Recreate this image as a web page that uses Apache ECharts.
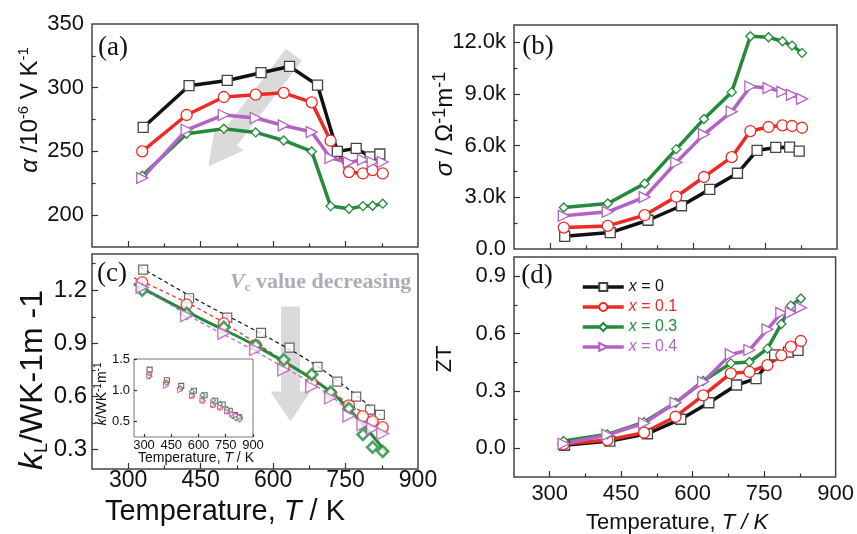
<!DOCTYPE html>
<html><head><meta charset="utf-8">
<script src="https://cdn.jsdelivr.net/npm/echarts@6/dist/echarts.min.js"></script>
<style>html,body{margin:0;padding:0;background:#fff}#c{width:857px;height:534px}</style>
</head><body><div id="c"></div>
<script>
// ---------- data ----------
var T0 = [331,426,505,575,634,692,733,772,801,821];
var T1 = [329,421,498,564,622,680,719,757,786,806,827];

// (a) Seebeck coefficient
var aX0 = [268.8,301.6,305.7,311.8,316.7,302.0,250.0,252.4,245.8,248.0];
var aX1 = [250.0,278.6,292.7,294.5,296.0,288.5,258.4,233.8,232.7,235.3,232.7];
var aX3 = [230.9,263.9,267.8,264.9,258.6,250.0,207.1,205.0,207.1,207.4,209.0];
var aX4 = [229.1,267.0,278.6,276.2,270.4,265.2,244.8,241.4,243.5,241.7,241.7];

// (b) electrical conductivity
var bX0 = [735,951,1669,2510,3461,4395,5719,5894,5912,5678];
var bX1 = [1243,1342,1961,3035,4179,5328,6846,7079,7178,7137,7038];
var bX3 = [2410,2644,3793,5795,7546,9104,12349,12290,12057,11806,11380];
var bX4 = [1926,2159,3011,5019,6653,7972,9431,9338,9122,8947,8713];

// (c) lattice thermal conductivity
var cX0 = [1.317,1.155,1.046,0.959,0.876,0.767,0.684,0.599,0.526,0.496];
var cX1 = [1.245,1.119,1.013,0.890,0.770,0.677,0.615,0.549,0.488,0.460,0.426];
var cX3 = [1.200,1.070,0.990,0.889,0.807,0.724,0.624,0.532,0.385,0.313,0.290];
var cX4 = [1.217,1.057,0.957,0.865,0.750,0.654,0.592,0.490,0.441,0.419,0.390];
// (c) fitted curves
var fitT0 = [325,450,575,700,822];       var fitK0 = [1.330,1.135,0.955,0.755,0.495];
var fitT1 = [312,450,560,700,832];       var fitK1 = [1.270,1.090,0.910,0.660,0.430];
var fitT3 = [312,450,565,700,760,835];   var fitK3 = [1.236,1.040,0.885,0.665,0.520,0.280];
var fitT4 = [312,450,560,700,760,831];   var fitK4 = [1.240,1.020,0.860,0.640,0.515,0.385];
// (c) inset: total thermal conductivity
var iX0 = [1.33,1.16,1.07,0.99,0.92,0.83,0.77,0.67,0.60,0.57];
var iX1 = [1.25,1.12,1.02,0.91,0.83,0.76,0.72,0.66,0.61,0.59,0.56];
var iX3 = [1.22,1.10,1.03,0.98,0.92,0.84,0.78,0.70,0.59,0.55,0.53];
var iX4 = [1.22,1.07,1.00,0.91,0.84,0.77,0.73,0.66,0.62,0.60,0.57];

// (d) ZT
var dX0 = [0.016,0.038,0.076,0.152,0.238,0.331,0.364,0.488,0.503,0.512];
var dX1 = [0.022,0.043,0.082,0.165,0.277,0.392,0.399,0.435,0.486,0.531,0.561];
var dX3 = [0.038,0.073,0.137,0.238,0.352,0.444,0.451,0.521,0.650,0.746,0.783];
var dX4 = [0.024,0.070,0.131,0.238,0.348,0.491,0.514,0.622,0.708,0.709,0.735];

// arrows [xStart, yStart, xEnd, yEnd] in data units
var arrowA = [643, 325.9, 466, 238.2];
var arrowC = [636, 1.108, 636, 0.458];

// names
var names = ['x = 0','x = 0.1','x = 0.3','x = 0.4'];

// ticks / labels
var xMajor = [300,450,600,750], xMinor = [375,525,675,825], xLabels = [300,450,600,750,900];
var aMajor = [200,250,300], aMinor = [225,275,325], aLabels = [200,250,300,350];
var bMajor = [3000,6000,9000,12000], bMinor = [1500,4500,7500,10500], bLabels = [0,3000,6000,9000,12000];
var cMajor = [0.3,0.6,0.9,1.2], cMinor = [0.45,0.75,1.05,1.35], cLabels = [0.3,0.6,0.9,1.2];
var dMajor = [0,0.3,0.6,0.9], dMinor = [0.15,0.45,0.75], dLabels = [0,0.3,0.6,0.9];
var iXLabels = [300,450,600,750,900], iYLabels = [0.5,1.0,1.5];

// ---------- style ----------
var FONT = 'Liberation Sans, Arial, sans-serif';
var SERIF = 'Liberation Serif, Times New Roman, serif';
var COL = ['#111111','#ee2a24','#248a3c','#b462c4'];
var EDGE = ['#444444','#ee2a24','#248a3c','#b462c4'];
var TRI = 'path://M0,0 L10,5 L0,10 Z';
var SYM = ['rect','circle','diamond',TRI];

function pairs(T, V){ return T.map(function(t,i){ return [t, V[i]]; }); }

var xAxes = [], yAxes = [];
function addAxes(list, gi, min, max, major, minor, labels, lbl, pos, len){
  var idx = list.length;
  list.push({type:'value', gridIndex:gi, min:min, max:max, position:pos,
    axisLine:{show:false, onZero:false}, splitLine:{show:false},
    axisTick:{show:true, inside:true, length:len, customValues:major, lineStyle:{color:'#333', width:1.2}},
    axisLabel: lbl ? Object.assign({show:true, customValues:labels, color:'#111', fontFamily:FONT}, lbl) : {show:false}
  });
  if (minor) {
    list.push({type:'value', gridIndex:gi, min:min, max:max, position:pos,
      axisLine:{show:false, onZero:false}, splitLine:{show:false},
      axisTick:{show:true, inside:true, length:len*0.6, customValues:minor, lineStyle:{color:'#333', width:1.2}},
      axisLabel:{show:false}
    });
  }
  return idx;
}
var f1 = function(v){ return v.toFixed(1); };
var fk = function(v){ return v === 0 ? '0.0' : (v/1000).toFixed(1) + 'k'; };

var xa = addAxes(xAxes, 0, 225, 900, xMajor, xMinor, null, null, 'bottom', 6);
var ya = addAxes(yAxes, 0, 175, 350, aMajor, aMinor, aLabels, {fontSize:22, margin:8}, 'left', 6);
var xb = addAxes(xAxes, 1, 225, 900, xMajor, xMinor, null, null, 'bottom', 6);
var yb = addAxes(yAxes, 1, 0, 13000, bMajor, bMinor, bLabels, {fontSize:22, margin:8, formatter:fk}, 'left', 6);
var xc = addAxes(xAxes, 2, 225, 900, xMajor, xMinor, xLabels, {fontSize:23, margin:0}, 'bottom', 6);
var yc = addAxes(yAxes, 2, 0.19, 1.405, cMajor, cMinor, cLabels, {fontSize:24, margin:5, formatter:f1}, 'left', 6);
var xd = addAxes(xAxes, 3, 225, 900, xMajor, xMinor, xLabels, {fontSize:22, margin:6}, 'bottom', 6);
var yd = addAxes(yAxes, 3, -0.15, 1.0, dMajor, dMinor, dLabels, {fontSize:22, margin:8, formatter:f1}, 'left', 6);
var xi = addAxes(xAxes, 4, 245, 900, iXLabels, null, iXLabels, {fontSize:13, margin:2}, 'bottom', 3);
var yi = addAxes(yAxes, 4, 0.25, 1.5, iYLabels, null, iYLabels, {fontSize:13, margin:4, formatter:f1}, 'left', 3);

var series = [];
function arrowRender(shaftHalf, headHalf, headLen, color){
  return function(params, api){
    var p0 = api.coord([api.value(0), api.value(1)]);
    var p1 = api.coord([api.value(2), api.value(3)]);
    var dx = p1[0]-p0[0], dy = p1[1]-p0[1], L = Math.sqrt(dx*dx+dy*dy);
    var ux = dx/L, uy = dy/L, px = -uy, py = ux;
    var bx = p1[0]-ux*headLen, by = p1[1]-uy*headLen;
    var s = shaftHalf, h = headHalf;
    return {type:'polygon', shape:{points:[
      [p0[0]+px*s, p0[1]+py*s],[bx+px*s, by+py*s],[bx+px*h, by+py*h],[p1[0],p1[1]],
      [bx-px*h, by-py*h],[bx-px*s, by-py*s],[p0[0]-px*s, p0[1]-py*s]]},
      style:{fill:color}};
  };
}
series.push({type:'custom', xAxisIndex:xa, yAxisIndex:ya, z:1, silent:true,
  renderItem: arrowRender(10, 18, 34, '#dadada'), encode:{x:[0,2], y:[1,3]}, data:[arrowA]});
series.push({type:'custom', xAxisIndex:xc, yAxisIndex:yc, z:1, silent:true,
  renderItem: arrowRender(9.5, 20, 30, '#dadada'), encode:{x:[0,2], y:[1,3]}, data:[arrowC]});

function lineSeries(name, xI, yI, T, V, k, size){
  return {type:'line', name:name, xAxisIndex:xI, yAxisIndex:yI, data:pairs(T,V),
    symbol:SYM[k], symbolSize:size, showSymbol:true,
    lineStyle:{color:COL[k], width:3.5, join:'round'},
    itemStyle:{color:'#fff', borderColor:EDGE[k], borderWidth:1.3},
    emphasis:{disabled:true}, animation:false};
}
var aSets = [[T0,aX0],[T1,aX1],[T1,aX3],[T1,aX4]];
var bSets = [[T0,bX0],[T1,bX1],[T1,bX3],[T1,bX4]];
var dSets = [[T0,dX0],[T1,dX1],[T1,dX3],[T1,dX4]];
var sizes = [10,11,9,11];
for (var k=0;k<4;k++){
  series.push(lineSeries('a'+k, xa, ya, aSets[k][0], aSets[k][1], k, sizes[k]));
  series.push(lineSeries('b'+k, xb, yb, bSets[k][0], bSets[k][1], k, sizes[k]));
  series.push(lineSeries(names[k], xd, yd, dSets[k][0], dSets[k][1], k, sizes[k]));
}
// (c) fits
var fits = [[fitT0,fitK0],[fitT1,fitK1],[fitT3,fitK3],[fitT4,fitK4]];
for (var k=0;k<4;k++){
  series.push({type:'line', name:'fit'+k, xAxisIndex:xc, yAxisIndex:yc, data:pairs(fits[k][0], fits[k][1]),
    symbol:'none', smooth:0.4, z:2,
    lineStyle: k===2 ? {color:COL[2], width:3} : {color:COL[k], width:1.2, type:[4,3]},
    emphasis:{disabled:true}, animation:false});
}
// (c) points
var cSets = [[T0,cX0],[T1,cX1],[T1,cX3],[T1,cX4]];
var cSizes = [9,11,11,12], cBW = [1.2,1.5,2.6,1.5];
for (var k=0;k<4;k++){
  series.push({type:'scatter', name:'c'+k, xAxisIndex:xc, yAxisIndex:yc, data:pairs(cSets[k][0], cSets[k][1]),
    symbol:SYM[k], symbolSize:cSizes[k], z:3,
    itemStyle:{color:'#fff', borderColor:EDGE[k], borderWidth:cBW[k]}, emphasis:{disabled:true}, animation:false});
}
// inset
var iSets = [[T0,iX0],[T1,iX1],[T1,iX3],[T1,iX4]];
for (var k=0;k<4;k++){
  series.push({type:'scatter', name:'i'+k, xAxisIndex:xi, yAxisIndex:yi, data:pairs(iSets[k][0], iSets[k][1]),
    symbol:SYM[k], symbolSize:5, z:5,
    itemStyle:{color:'#fff', borderColor:EDGE[k], borderWidth:1.1}, emphasis:{disabled:true}, animation:false});
}

var gridBase = {show:true, borderColor:'#444', borderWidth:1.5, containLabel:false};
function txt(x, y, text, rich, rot, extra){
  return Object.assign({type:'text', x:x, y:y, rotation:rot||0, z:100, silent:true,
    style:{text:text, rich:rich, align:'center', verticalAlign:'middle', fill:'#111', font:'22px '+FONT}}, extra||{});
}
var SANS = FONT;
function plain(x, y, t, font, rot){
  return {type:'text', x:x, y:y, rotation:rot||0, z:100, silent:true,
    style:{text:t, align:'center', verticalAlign:'middle', fill:'#111', font:font}};
}
var graphics = [
  // panel labels
  plain(113, 48, '(a)', '27px '+SERIF),
  plain(538, 47, '(b)', '27px '+SERIF),
  plain(112, 274, '(c)', '27px '+SERIF),
  plain(537, 276, '(d)', '27px '+SERIF),
  // y titles
  txt(30, 110, '{g|α}{n| /10}{s|-6}{n| V K}{s|-1}', {
    g:{fontSize:24, fontStyle:'italic', fontFamily:SANS, lineHeight:28},
    n:{fontSize:24, fontFamily:SANS, lineHeight:28},
    s:{fontSize:15, fontFamily:SANS, lineHeight:15, verticalAlign:'top'}}, Math.PI/2),
  txt(445, 124, '{g|σ}{n| / Ω}{s|-1}{n|m}{s|-1}', {
    g:{fontSize:24, fontStyle:'italic', fontFamily:SANS, lineHeight:28},
    n:{fontSize:24, fontFamily:SANS, lineHeight:28},
    s:{fontSize:18, fontFamily:SANS, lineHeight:18, verticalAlign:'top'}}, Math.PI/2),
  txt(33, 380, '{k|k}{l|L}{n|/WK-1m -1}', {
    k:{fontSize:34, fontStyle:'italic', fontFamily:SANS, lineHeight:36},
    l:{fontSize:18, fontFamily:SANS, lineHeight:18, verticalAlign:'bottom'},
    n:{fontSize:32, fontFamily:SANS, lineHeight:36}}, Math.PI/2),
  plain(445, 359, 'ZT', '22px '+SANS, Math.PI/2),
  // x titles
  txt(225, 512, '{n|Temperature, }{i|T}{n| / K}', {
    n:{fontSize:29, fontFamily:SANS}, i:{fontSize:29, fontStyle:'italic', fontFamily:SANS}}),
  txt(677, 523, '{n|Temperature, }{i|T / K}', {
    n:{fontSize:22, fontFamily:SANS}, i:{fontSize:22, fontStyle:'italic', fontFamily:SANS}}),
  // inset titles
  txt(196, 458, '{n|Temperature, }{i|T}{n| / K}', {
    n:{fontSize:14, fontFamily:SANS}, i:{fontSize:14, fontStyle:'italic', fontFamily:SANS}}),
  txt(102, 394, '{i|k}{n|/WK}{s|-1}{n|m}{s|-1}', {
    i:{fontSize:14, fontStyle:'italic', fontFamily:SANS, lineHeight:17},
    n:{fontSize:14, fontFamily:SANS, lineHeight:17},
    s:{fontSize:10, fontFamily:SANS, lineHeight:10, verticalAlign:'top'}}, Math.PI/2),
  // annotation
  {type:'text', x:230, y:282, z:100, silent:true, style:{text:'{v|V}{c|c}{t| value decreasing}', align:'left', verticalAlign:'middle',
    fill:'#adadb8', rich:{
      v:{fontSize:22, fontStyle:'italic', fontWeight:'bold', fontFamily:SERIF, lineHeight:24},
      c:{fontSize:13, fontWeight:'bold', fontFamily:SERIF, lineHeight:13, verticalAlign:'bottom'},
      t:{fontSize:22, fontWeight:'bold', fontFamily:SERIF, lineHeight:24}}}}
];

var legendData = names.map(function(n,k){ return {name:n, textStyle:{color:COL[k]}}; });

var chart = echarts.init(document.getElementById('c'), null, {renderer:'canvas'});
chart.setOption({
  backgroundColor:'#fff',
  animation:false,
  grid:[
    Object.assign({left:92, top:24, width:326, height:223}, gridBase),
    Object.assign({left:514, top:25, width:323, height:224}, gridBase),
    Object.assign({left:92, top:254, width:326, height:215}, gridBase),
    Object.assign({left:514, top:257, width:323, height:220}, gridBase),
    {show:true, left:134, top:359, width:119, height:78, borderColor:'#777', borderWidth:1, backgroundColor:'#fff'}
  ],
  xAxis:xAxes, yAxis:yAxes,
  legend:{left:581, top:279, orient:'vertical', padding:0, itemWidth:41, itemHeight:10, itemGap:4,
    selectedMode:false, data:legendData, lineStyle:{width:3.5},
    formatter:function(n){ return '{i|x}' + n.slice(1); },
    textStyle:{fontSize:16, lineHeight:16, fontFamily:FONT, rich:{i:{fontSize:16, fontStyle:'italic', fontFamily:FONT}}}},
  series:series,
  graphic:{elements:graphics}
});
</script></body></html>
